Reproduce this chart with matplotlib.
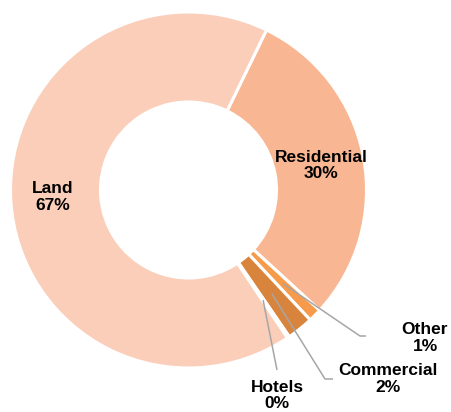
import numpy as np
import matplotlib
matplotlib.use('Agg')
import matplotlib.pyplot as plt

# data
categories = ['Residential', 'Other', 'Commercial', 'Hotels', 'Land']
shares = [29.6, 1.2, 2.4, 0.2, 66.6]
pct_labels = ['30%', '1%', '2%', '0%', '67%']
colors = ['#F8B692', '#F79A4A', '#D9843D', '#D9843D', '#FBCEB9']

W, H = 451, 412


def px(x, y):
    # image pixel coords -> data coords (y up)
    return x, H - y


fig = plt.figure(figsize=(W / 100, H / 100), dpi=100)
ax = fig.add_axes([0, 0, 1, 1])

center = px(188.5, 190)
R_out, ring = 178, 90
wedges, _ = ax.pie(shares, colors=colors, startangle=64, counterclock=False,
                   radius=R_out, center=center,
                   wedgeprops=dict(width=ring, edgecolor='white', linewidth=2.2))

ax.set_xlim(0, W)
ax.set_ylim(0, H)
ax.set_aspect('equal')
ax.axis('off')

font = dict(family='Liberation Sans', fontweight='bold', fontsize=12.5,
            color='black', ha='center', va='center', linespacing=1.1)

# labels inside the ring
inside_pos = {'Land': px(53, 197), 'Residential': px(321, 165.5)}
# labels outside with leader lines: text centre, elbow, line end
outside_pos = {
    'Other': (px(425, 338), px(360, 336), px(366, 336)),
    'Commercial': (px(388, 379), px(325, 379), px(333, 379)),
    'Hotels': (px(277, 395.5), px(277, 370), px(277, 370)),
}

r_mid = R_out - ring / 2
for w, cat, pct in zip(wedges, categories, pct_labels):
    label = cat + '\n' + pct
    if cat in inside_pos:
        ax.text(*inside_pos[cat], label, **font)
        continue
    tpos, elbow, end = outside_pos[cat]
    theta = np.deg2rad((w.theta1 + w.theta2) / 2)
    start = (center[0] + r_mid * np.cos(theta), center[1] + r_mid * np.sin(theta))
    ax.plot([start[0], elbow[0], end[0]], [start[1], elbow[1], end[1]],
            color='#A6A6A6', lw=1.1, solid_capstyle='butt')
    ax.text(*tpos, label, **font)

plt.savefig('out.png', dpi=100)
